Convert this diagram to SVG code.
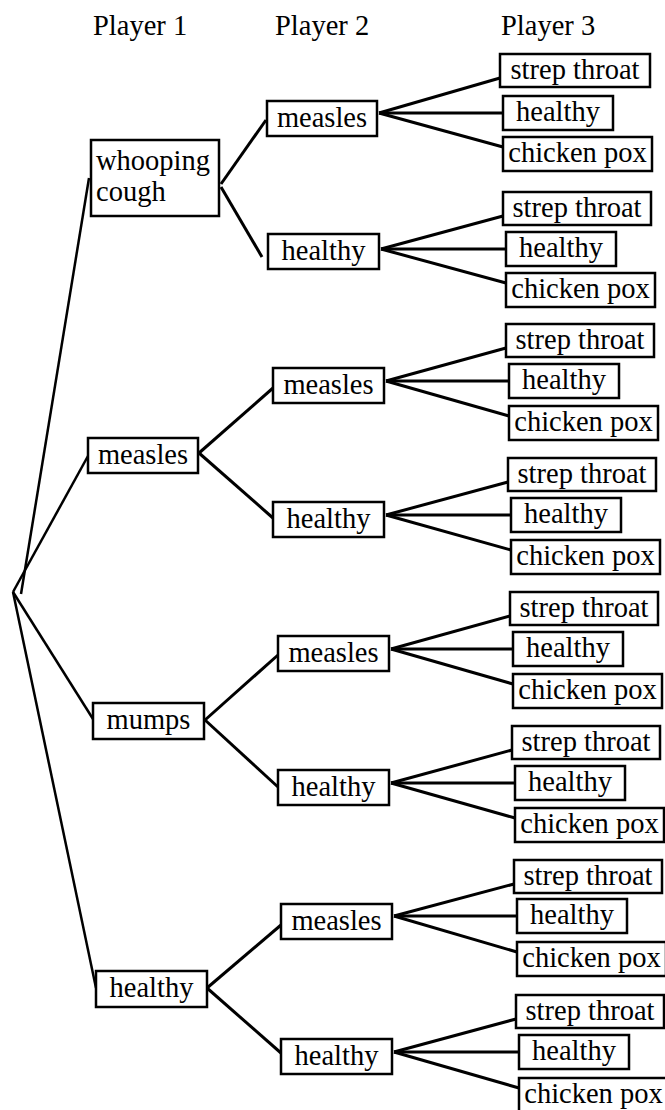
<svg xmlns="http://www.w3.org/2000/svg" width="665" height="1110" viewBox="0 0 665 1110" font-family="Liberation Serif, DejaVu Serif, serif">
<style>
text{font-family:'Liberation Serif','DejaVu Serif',serif;font-size:28.5px;fill:#000}
.c{text-anchor:middle}
rect{fill:#fff;stroke:#000;stroke-width:2.5}
.l line{stroke:#000;stroke-width:3;stroke-linecap:butt}
.r line{stroke:#000;stroke-width:2.5}
</style>
<rect x="0" y="0" width="665" height="1110" style="stroke:none"/>
<g id="headers">
<text x="93" y="35">Player 1</text>
<text x="275" y="35">Player 2</text>
<text x="501" y="35">Player 3</text>
</g>
<g id="connectors">
<g class="r">
<line x1="21" y1="594" x2="89" y2="178"/>
<line x1="13" y1="592" x2="88" y2="456"/>
<line x1="13" y1="592" x2="93" y2="719"/>
<line x1="13" y1="592" x2="96" y2="988"/>
</g>
<g class="l">
<line x1="221" y1="184" x2="266" y2="120"/>
<line x1="221" y1="187" x2="262" y2="257"/>
<line x1="199" y1="453" x2="273" y2="388"/>
<line x1="199" y1="453" x2="273" y2="518"/>
<line x1="205" y1="720" x2="278" y2="655"/>
<line x1="205" y1="720" x2="278" y2="787"/>
<line x1="207" y1="988" x2="281" y2="925"/>
<line x1="207" y1="988" x2="281" y2="1053"/>
<line x1="379" y1="113" x2="500" y2="78"/>
<line x1="379" y1="113" x2="503" y2="113"/>
<line x1="379" y1="113" x2="503" y2="147"/>
<line x1="381" y1="249" x2="503" y2="216"/>
<line x1="381" y1="249" x2="506" y2="249"/>
<line x1="381" y1="249" x2="506" y2="283"/>
<line x1="386" y1="381" x2="506" y2="348"/>
<line x1="386" y1="381" x2="509" y2="381"/>
<line x1="386" y1="381" x2="509" y2="416"/>
<line x1="386" y1="515" x2="508" y2="482"/>
<line x1="386" y1="515" x2="511" y2="515"/>
<line x1="386" y1="515" x2="511" y2="550"/>
<line x1="391" y1="649" x2="510" y2="616"/>
<line x1="391" y1="649" x2="513" y2="649"/>
<line x1="391" y1="649" x2="513" y2="684"/>
<line x1="391" y1="783" x2="512" y2="750"/>
<line x1="391" y1="783" x2="515" y2="783"/>
<line x1="391" y1="783" x2="515" y2="818"/>
<line x1="394" y1="916" x2="514" y2="884"/>
<line x1="394" y1="916" x2="517" y2="916"/>
<line x1="394" y1="916" x2="517" y2="952"/>
<line x1="394" y1="1052" x2="516" y2="1019"/>
<line x1="394" y1="1052" x2="519" y2="1052"/>
<line x1="394" y1="1052" x2="519" y2="1088"/>
</g>
</g>
<g id="p1-whooping"><rect x="91" y="140" width="128" height="76"/><text x="96" y="170">whooping</text><text x="96" y="201">cough</text></g>
<g id="p1-measles"><rect x="88" y="438" width="110" height="35"/><text class="c" x="143" y="464">measles</text></g>
<g id="p1-mumps"><rect x="93" y="703" width="111" height="36"/><text class="c" x="148.5" y="729">mumps</text></g>
<g id="p1-healthy"><rect x="96" y="971" width="111" height="36"/><text class="c" x="151.5" y="997">healthy</text></g>
<g id="p2-a"><rect x="267" y="101" width="110" height="35"/><text class="c" x="322" y="127">measles</text></g>
<g id="p2-b"><rect x="268" y="234" width="111" height="35"/><text class="c" x="323.5" y="260">healthy</text></g>
<g id="p2-c"><rect x="273" y="368" width="111" height="35"/><text class="c" x="328.5" y="394">measles</text></g>
<g id="p2-d"><rect x="273" y="502" width="111" height="35"/><text class="c" x="328.5" y="528">healthy</text></g>
<g id="p2-e"><rect x="278" y="636" width="111" height="35"/><text class="c" x="333.5" y="662">measles</text></g>
<g id="p2-f"><rect x="278" y="770" width="111" height="35"/><text class="c" x="333.5" y="796">healthy</text></g>
<g id="p2-g"><rect x="281" y="904" width="111" height="35"/><text class="c" x="336.5" y="930">measles</text></g>
<g id="p2-h"><rect x="281" y="1039" width="111" height="35"/><text class="c" x="336.5" y="1065">healthy</text></g>
<g id="p3-a1"><rect x="500" y="54" width="150" height="33"/><text class="c" x="575" y="79">strep throat</text></g>
<g id="p3-a2"><rect x="503" y="96" width="110" height="34"/><text class="c" x="558" y="121">healthy</text></g>
<g id="p3-a3"><rect x="503" y="137" width="149" height="34"/><text class="c" x="577.5" y="162">chicken pox</text></g>
<g id="p3-b1"><rect x="503" y="192" width="148" height="33"/><text class="c" x="577" y="217">strep throat</text></g>
<g id="p3-b2"><rect x="506" y="232" width="110" height="34"/><text class="c" x="561" y="257">healthy</text></g>
<g id="p3-b3"><rect x="506" y="273" width="149" height="34"/><text class="c" x="580.5" y="298">chicken pox</text></g>
<g id="p3-c1"><rect x="506" y="324" width="148" height="33"/><text class="c" x="580" y="349">strep throat</text></g>
<g id="p3-c2"><rect x="509" y="364" width="110" height="34"/><text class="c" x="564" y="389">healthy</text></g>
<g id="p3-c3"><rect x="509" y="406" width="149" height="34"/><text class="c" x="583.5" y="431">chicken pox</text></g>
<g id="p3-d1"><rect x="508" y="458" width="148" height="33"/><text class="c" x="582" y="483">strep throat</text></g>
<g id="p3-d2"><rect x="511" y="498" width="110" height="34"/><text class="c" x="566" y="523">healthy</text></g>
<g id="p3-d3"><rect x="511" y="540" width="149" height="34"/><text class="c" x="585.5" y="565">chicken pox</text></g>
<g id="p3-e1"><rect x="510" y="592" width="148" height="33"/><text class="c" x="584" y="617">strep throat</text></g>
<g id="p3-e2"><rect x="513" y="632" width="110" height="34"/><text class="c" x="568" y="657">healthy</text></g>
<g id="p3-e3"><rect x="513" y="674" width="149" height="34"/><text class="c" x="587.5" y="699">chicken pox</text></g>
<g id="p3-f1"><rect x="512" y="726" width="148" height="33"/><text class="c" x="586" y="751">strep throat</text></g>
<g id="p3-f2"><rect x="515" y="766" width="110" height="34"/><text class="c" x="570" y="791">healthy</text></g>
<g id="p3-f3"><rect x="515" y="808" width="149" height="34"/><text class="c" x="589.5" y="833">chicken pox</text></g>
<g id="p3-g1"><rect x="514" y="860" width="148" height="33"/><text class="c" x="588" y="885">strep throat</text></g>
<g id="p3-g2"><rect x="517" y="899" width="110" height="34"/><text class="c" x="572" y="924">healthy</text></g>
<g id="p3-g3"><rect x="517" y="942" width="149" height="34"/><text class="c" x="591.5" y="967">chicken pox</text></g>
<g id="p3-h1"><rect x="516" y="995" width="148" height="33"/><text class="c" x="590" y="1020">strep throat</text></g>
<g id="p3-h2"><rect x="519" y="1035" width="110" height="34"/><text class="c" x="574" y="1060">healthy</text></g>
<g id="p3-h3"><rect x="519" y="1078" width="149" height="34"/><text class="c" x="593.5" y="1103">chicken pox</text></g>
</svg>
